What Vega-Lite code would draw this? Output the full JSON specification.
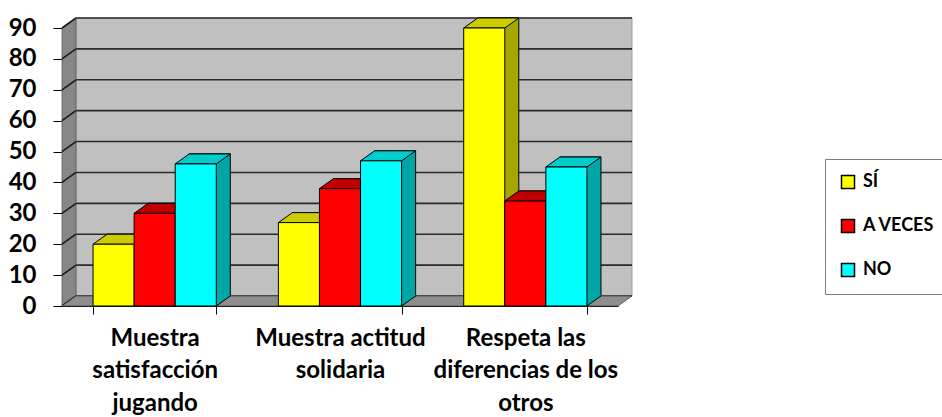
{
  "$schema": "https://vega.github.io/schema/vega-lite/v6.json",
  "width": 556,
  "height": 278,
  "autosize": {"type": "none"},
  "padding": {"left": 62, "top": 28, "right": 324, "bottom": 111},
  "background": "white",
  "config": {
    "view": {"stroke": null},
    "font": "Lato",
    "axisX": {"title": null, "labelAngle": 0, "labelAlign": "center", "labelBaseline": "top",
              "labelOverlap": false, "labelFlush": false, "zindex": 1, "grid": false,
              "domainColor": "black", "domainWidth": 1,
              "tickBand": "extent", "tickSize": 8, "tickColor": "black", "tickWidth": 1,
              "labelFont": "Lato", "labelFontSize": 24, "labelFontWeight": "bold", "labelColor": "black",
              "labelPadding": 12, "labelLineHeight": 32.5, "labelLimit": 0},
    "axisY": {"title": null, "zindex": 1, "grid": false,
              "labelOverlap": false, "labelFlush": false,
              "domainColor": "black", "domainWidth": 1,
              "tickSize": 9, "tickColor": "black", "tickWidth": 1,
              "labelFont": "Lato", "labelFontSize": 24, "labelFontWeight": "bold", "labelColor": "black",
              "labelPadding": 17}
  },
  "datasets": {
    "respuestas": [
      {"aspecto": "Muestra satisfacción jugando", "respuesta": "SÍ", "valor": 20},
      {"aspecto": "Muestra satisfacción jugando", "respuesta": "A VECES", "valor": 30},
      {"aspecto": "Muestra satisfacción jugando", "respuesta": "NO", "valor": 46},
      {"aspecto": "Muestra actitud solidaria", "respuesta": "SÍ", "valor": 27},
      {"aspecto": "Muestra actitud solidaria", "respuesta": "A VECES", "valor": 38},
      {"aspecto": "Muestra actitud solidaria", "respuesta": "NO", "valor": 47},
      {"aspecto": "Respeta las diferencias de los otros", "respuesta": "SÍ", "valor": 90},
      {"aspecto": "Respeta las diferencias de los otros", "respuesta": "A VECES", "valor": 34},
      {"aspecto": "Respeta las diferencias de los otros", "respuesta": "NO", "valor": 45}
    ],
    "niveles": [
      {"nivel": 0}, {"nivel": 10}, {"nivel": 20}, {"nivel": 30}, {"nivel": 40},
      {"nivel": 50}, {"nivel": 60}, {"nivel": 70}, {"nivel": 80}, {"nivel": 90}
    ],
    "pared": [{"parte": "fondo"}]
  },
  "layer": [
    {
      "description": "back wall",
      "data": {"name": "pared"},
      "mark": {"type": "rect", "fill": "#c0c0c0", "stroke": "#9c9c9c", "strokeWidth": 1,
               "xOffset": 14, "x2Offset": 14, "yOffset": -10, "y2Offset": -10},
      "encoding": {
        "x": {"value": 0},
        "x2": {"value": "width"},
        "y": {"datum": 0, "type": "quantitative", "title": null, "scale": {"domain": [0, 90], "nice": false},
              "axis": {"values": [0, 10, 20, 30, 40, 50, 60, 70, 80, 90], "labelOverlap": false}},
        "y2": {"datum": 90}
      }
    },
    {
      "description": "gridlines on the back wall",
      "data": {"name": "niveles"},
      "mark": {"type": "rule", "color": "#2a2a2a", "strokeWidth": 1.6,
               "xOffset": 14, "x2Offset": 14, "yOffset": -10},
      "encoding": {
        "x": {"value": 0},
        "x2": {"value": "width"},
        "y": {"field": "nivel", "type": "quantitative", "title": null, "scale": {"domain": [0, 90], "nice": false},
              "axis": {"values": [0, 10, 20, 30, 40, 50, 60, 70, 80, 90], "labelOverlap": false}}
      }
    },
    {
      "description": "left side wall",
      "data": {"name": "pared"},
      "mark": {"type": "point", "shape": "M0,0L14,-10L14,-288L0,-278Z", "size": 4,
               "filled": true, "fill": "#878787", "stroke": "#5a5a5a", "strokeWidth": 0.8, "opacity": 1},
      "encoding": {
        "x": {"value": 0},
        "y": {"datum": 0, "type": "quantitative", "title": null, "scale": {"domain": [0, 90], "nice": false},
              "axis": {"values": [0, 10, 20, 30, 40, 50, 60, 70, 80, 90], "labelOverlap": false}}
      }
    },
    {
      "description": "gridline stubs across the side wall",
      "data": {"name": "niveles"},
      "mark": {"type": "rule", "color": "#1a1a1a", "strokeWidth": 1.6, "x2Offset": 14, "y2Offset": -10},
      "encoding": {
        "x": {"value": 0},
        "x2": {"value": 0},
        "y": {"field": "nivel", "type": "quantitative", "title": null, "scale": {"domain": [0, 90], "nice": false},
              "axis": {"values": [0, 10, 20, 30, 40, 50, 60, 70, 80, 90], "labelOverlap": false}},
        "y2": {"field": "nivel"}
      }
    },
    {
      "description": "floor",
      "data": {"name": "pared"},
      "mark": {"type": "point", "shape": "M0,0L556,0L570,-10L14,-10Z", "size": 4,
               "filled": true, "fill": "#8e8e8e", "stroke": "#4a4a4a", "strokeWidth": 0.8, "opacity": 1},
      "encoding": {
        "x": {"value": 0},
        "y": {"datum": 0, "type": "quantitative", "title": null, "scale": {"domain": [0, 90], "nice": false},
              "axis": {"values": [0, 10, 20, 30, 40, 50, 60, 70, 80, 90], "labelOverlap": false}}
      }
    },
    {
      "description": "back faces of the bars, pushed back by the depth of the box",
      "data": {"name": "respuestas"},
      "mark": {"type": "bar", "stroke": "black", "strokeWidth": 1, "yOffset": -10, "y2Offset": -10},
      "encoding": {
        "x": {"field": "aspecto", "type": "nominal", "sort": null, "title": null,
              "scale": {"paddingInner": 0.335, "paddingOuter": 0.1675}},
        "xOffset": {"field": "respuesta", "type": "nominal", "sort": null,
                    "scale": {"domain": ["SÍ", "A VECES", "NO"], "range": [14, 137.25], "paddingInner": 0, "paddingOuter": 0}},
        "y": {"field": "valor", "type": "quantitative", "title": null, "scale": {"domain": [0, 90], "nice": false},
              "axis": {"values": [0, 10, 20, 30, 40, 50, 60, 70, 80, 90], "labelOverlap": false}},
        "color": {"field": "respuesta", "type": "nominal", "legend": null,
                  "scale": {"domain": ["SÍ", "A VECES", "NO"], "range": ["#a6a600", "#990000", "#00a6a6"]}}
      }
    },
    {
      "description": "lower corner of the side faces",
      "data": {"name": "respuestas"},
      "mark": {"type": "point", "shape": "M20.54,-11L20.54,0L34.54,-10L34.54,-11Z", "size": 4,
               "filled": true, "strokeWidth": 0, "opacity": 1},
      "encoding": {
        "x": {"field": "aspecto", "type": "nominal", "sort": null, "title": null},
        "xOffset": {"field": "respuesta", "type": "nominal", "sort": null},
        "y": {"datum": 0, "type": "quantitative", "title": null, "scale": {"domain": [0, 90], "nice": false},
              "axis": {"values": [0, 10, 20, 30, 40, 50, 60, 70, 80, 90], "labelOverlap": false}},
        "color": {"field": "respuesta", "type": "nominal", "legend": null,
                  "scale": {"domain": ["SÍ", "A VECES", "NO"], "range": ["#a6a600", "#990000", "#00a6a6"]}}
      }
    },
    {
      "description": "bottom edge of the side faces",
      "data": {"name": "respuestas"},
      "mark": {"type": "point", "shape": "M20.54,0L34.54,-10", "size": 4, "filled": false,
               "stroke": "black", "strokeWidth": 1, "opacity": 1},
      "encoding": {
        "x": {"field": "aspecto", "type": "nominal", "sort": null, "title": null},
        "xOffset": {"field": "respuesta", "type": "nominal", "sort": null},
        "y": {"datum": 0, "type": "quantitative", "title": null, "scale": {"domain": [0, 90], "nice": false},
              "axis": {"values": [0, 10, 20, 30, 40, 50, 60, 70, 80, 90], "labelOverlap": false}}
      }
    },
    {
      "description": "top faces of the bars",
      "data": {"name": "respuestas"},
      "mark": {"type": "point", "shape": "M-20.54,0L20.54,0L34.54,-10L-6.54,-10Z", "size": 4,
               "filled": true, "stroke": "black", "strokeWidth": 1, "opacity": 1},
      "encoding": {
        "x": {"field": "aspecto", "type": "nominal", "sort": null, "title": null},
        "xOffset": {"field": "respuesta", "type": "nominal", "sort": null},
        "y": {"field": "valor", "type": "quantitative", "title": null, "scale": {"domain": [0, 90], "nice": false},
              "axis": {"values": [0, 10, 20, 30, 40, 50, 60, 70, 80, 90], "labelOverlap": false}},
        "fill": {"field": "respuesta", "type": "nominal", "legend": null,
                 "scale": {"domain": ["SÍ", "A VECES", "NO"], "range": ["#cccc00", "#c00000", "#00cccc"]}}
      }
    },
    {
      "description": "front faces of the bars",
      "data": {"name": "respuestas"},
      "mark": {"type": "bar", "stroke": "black", "strokeWidth": 1},
      "encoding": {
        "x": {"field": "aspecto", "type": "nominal", "sort": null, "title": null,
              "axis": {"labelExpr": "datum.value == 'Muestra satisfacción jugando' ? ['Muestra', 'satisfacción', 'jugando'] : datum.value == 'Muestra actitud solidaria' ? ['Muestra actitud', 'solidaria'] : datum.value == 'Respeta las diferencias de los otros' ? ['Respeta las', 'diferencias de los', 'otros'] : ''"}},
        "xOffset": {"field": "respuesta", "type": "nominal", "sort": null},
        "y": {"field": "valor", "type": "quantitative", "title": null, "scale": {"domain": [0, 90], "nice": false},
              "axis": {"values": [0, 10, 20, 30, 40, 50, 60, 70, 80, 90], "labelOverlap": false}},
        "color": {"field": "respuesta", "type": "nominal",
                  "scale": {"domain": ["SÍ", "A VECES", "NO"], "range": ["#ffff00", "#ff0000", "#00ffff"]},
                  "legend": {"title": null, "orient": "none", "legendX": 763, "legendY": 131, "direction": "vertical",
                             "symbolType": "square", "symbolSize": 169, "symbolStrokeColor": "black",
                             "symbolStrokeWidth": 1.5, "symbolOpacity": 1,
                             "labelFont": "Lato", "labelFontSize": 18, "labelFontWeight": "bold", "labelColor": "black",
                             "labelOffset": 6, "labelLimit": 0, "rowPadding": 24, "padding": 14,
                             "strokeColor": "#7f7f7f", "fillColor": "white"}}
      }
    }
  ],
  "resolve": {"scale": {"color": "independent", "fill": "independent", "xOffset": "independent"}}
}
